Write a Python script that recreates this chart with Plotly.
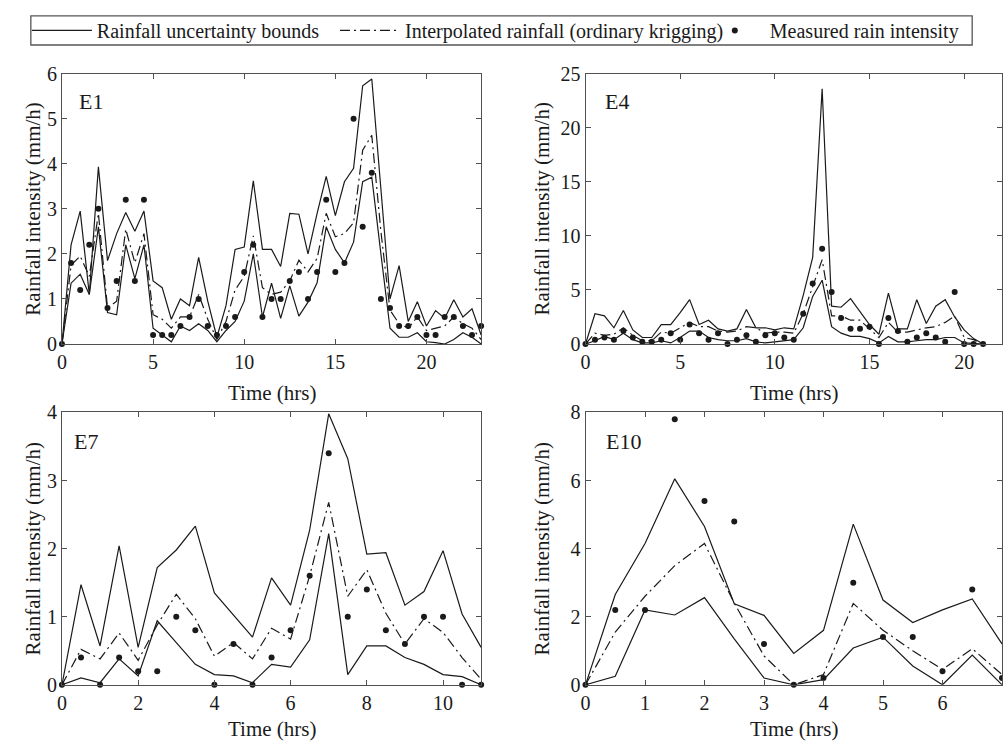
import plotly.graph_objects as go

W, H = 1003, 755
FONT = "Liberation Serif, Times New Roman, serif"
INK = "#1a1a1a"
AX = "#505050"

# ---------------- data ----------------
t_e1 = [0, 0.5, 1, 1.5, 2, 2.5, 3, 3.5, 4, 4.5, 5, 5.5, 6, 6.5, 7, 7.5, 8, 8.5, 9, 9.5,
        10, 10.5, 11, 11.5, 12, 12.5, 13, 13.5, 14, 14.5, 15, 15.5, 16, 16.5, 17, 17.5,
        18, 18.5, 19, 19.5, 20, 20.5, 21, 21.5, 22, 22.5, 23]
e1_upper = [0, 2.2, 2.95, 1.1, 3.93, 1.85, 2.45, 2.92, 2.5, 2.95,
            1.4, 1.25, 0.55, 1.0, 0.85, 1.92, 0.95, 0.15, 0.85, 2.1,
            2.15, 3.62, 2.1, 2.1, 1.72, 2.9, 2.88, 2.0, 2.9, 3.72,
            2.85, 3.6, 3.9, 5.73, 5.88, 3.4, 1.0, 1.74, 0.5, 0.94,
            0.4, 0.74, 0.57, 0.98, 0.6, 0.78, 0.2]
e1_lower = [0, 1.35, 1.55, 1.1, 2.6, 0.7, 0.65, 2.2, 1.45, 2.2,
            0.35, 0.2, 0.05, 0.4, 0.3, 0.45, 0.3, 0.05, 0.3, 0.5,
            0.95, 2.0, 0.6, 1.35, 0.57, 1.29, 0.62, 0.93, 1.36, 2.6,
            2.1, 1.8, 2.26, 3.6, 3.7, 2.0, 0.35, 0.15, 0.15, 0.25,
            0.05, 0.03, 0.0, 0.1, 0.25, 0.15, 0.0]
e1_interp = [0, 1.75, 1.95, 1.5, 2.9, 0.8, 0.95, 2.55, 1.8, 2.45,
             0.65, 0.55, 0.35, 0.6, 0.6, 1.1, 0.55, 0.1, 0.5, 1.2,
             1.5, 2.4, 1.25, 1.1, 1.15, 1.4, 1.86, 1.6, 1.9, 2.9,
             2.38, 2.45, 2.69, 4.3, 4.63, 2.5, 0.75, 0.45, 0.35, 0.6,
             0.3, 0.35, 0.4, 0.6, 0.45, 0.35, 0.1]
e1_meas = [0, 1.8, 1.2, 2.2, 3.0, 0.8, 1.4, 3.2, 1.4, 3.2,
           0.2, 0.2, 0.2, 0.4, 0.6, 1.0, 0.4, 0.2, 0.4, 0.6,
           1.6, 2.2, 0.6, 1.0, 1.0, 1.4, 1.6, 1.0, 1.6, 3.2,
           1.6, 1.8, 5.0, 2.6, 3.8, 1.0, 0.8, 0.4, 0.4, 0.6,
           0.2, 0.2, 0.6, 0.6, 0.4, 0.2, 0.4]

t_e4 = [0, 0.5, 1, 1.5, 2, 2.5, 3, 3.5, 4, 4.5, 5, 5.5, 6, 6.5, 7, 7.5, 8, 8.5, 9, 9.5,
        10, 10.5, 11, 11.5, 12, 12.5, 13, 13.5, 14, 14.5, 15, 15.5, 16, 16.5, 17, 17.5,
        18, 18.5, 19, 19.5, 20, 20.5, 21]
e4_upper = [0, 2.8, 2.6, 1.5, 3.1, 1.3, 0.6, 0.6, 1.8, 1.8,
            2.9, 4.1, 1.8, 2.2, 1.4, 1.2, 1.4, 3.2, 1.5, 1.5,
            1.3, 1.5, 1.4, 4.5, 8.0, 23.6, 3.5, 3.4, 4.2, 3.0,
            1.8, 0.9, 4.7, 1.4, 1.4, 4.1, 1.9, 3.5, 4.1, 2.5,
            1.3, 0.5, 0]
e4_lower = [0, 0.3, 0.7, 0.4, 1.0, 0.4, 0.1, 0.1, 0.3, 0.1,
            0.6, 1.2, 1.2, 0.6, 0.4, 0.3, 0.3, 0.5, 0.2, 0.1,
            0.2, 0.3, 0.4, 1.5, 4.4, 5.9, 1.6, 1.0, 0.7, 0.7,
            0.5, 0.1, 0.7, 0.2, 0.2, 0.3, 0.4, 0.4, 0.6, 0.6,
            0.1, 0.05, 0]
e4_interp = [0, 1.0, 0.8, 0.9, 1.5, 0.8, 0.3, 0.3, 1.1, 1.0,
             1.5, 2.0, 1.6, 1.6, 1.2, 1.1, 1.2, 1.6, 1.5, 1.0,
             1.1, 1.1, 1.0, 2.8, 5.3, 7.8, 2.6, 2.6, 2.2, 2.2,
             1.4, 0.6, 2.0, 1.1, 1.1, 1.3, 1.5, 1.6, 2.0, 2.6,
             0.6, 0.4, 0]
e4_meas = [0, 0.4, 0.6, 0.4, 1.2, 0.6, 0.2, 0.2, 0.4, 1.0,
           0.4, 1.8, 1.0, 0.4, 1.0, 0.0, 0.4, 0.8, 0.2, 0.8,
           1.0, 0.6, 0.4, 2.8, 5.6, 8.8, 4.8, 2.4, 1.4, 1.4,
           1.6, 0.0, 2.4, 1.2, 0.2, 0.6, 1.0, 0.6, 0.2, 4.8,
           0, 0, 0]

t_e7 = [0, 0.5, 1, 1.5, 2, 2.5, 3, 3.5, 4, 4.5, 5, 5.5, 6, 6.5, 7, 7.5, 8, 8.5, 9, 9.5,
        10, 10.5, 11]
e7_upper = [0, 1.47, 0.57, 2.04, 0.55, 1.72, 1.98, 2.33, 1.35, 1.03, 0.7, 1.57,
            1.17, 2.27, 3.98, 3.32, 1.92, 1.94, 1.17, 1.37, 1.97, 1.04, 0.55]
e7_lower = [0, 0.1, 0.03, 0.38, 0.13, 0.94, 0.62, 0.3, 0.15, 0.13, 0.03, 0.3,
            0.26, 0.66, 2.22, 0.15, 0.57, 0.57, 0.4, 0.3, 0.15, 0.12, 0.0]
e7_interp = [0, 0.52, 0.38, 0.76, 0.36, 0.88, 1.33, 0.97, 0.42, 0.62, 0.38, 0.83,
             0.67, 1.6, 2.68, 1.3, 1.69, 1.05, 0.6, 0.97, 0.77, 0.4, 0.08]
e7_meas = [0, 0.4, 0, 0.4, 0.2, 0.2, 1.0, 0.8, 0, 0.6, 0, 0.4,
           0.8, 1.6, 3.4, 1.0, 1.4, 0.8, 0.6, 1.0, 1.0, 0, 0]

t_e10 = [0, 0.5, 1, 1.5, 2, 2.5, 3, 3.5, 4, 4.5, 5, 5.5, 6, 6.5, 7]
e10_upper = [0, 2.65, 4.15, 6.05, 4.65, 2.38, 2.04, 0.92, 1.6, 4.72, 2.49, 1.83, 2.2, 2.52, 1.2]
e10_lower = [0, 0.25, 2.2, 2.05, 2.56, 1.35, 0.2, 0.0, 0.15, 1.08, 1.4, 0.55, 0.0, 0.87, 0.0]
e10_interp = [0, 1.55, 2.6, 3.5, 4.15, 2.4, 0.85, 0.0, 0.3, 2.39, 1.6, 1.0, 0.45, 1.06, 0.3]
e10_meas = [0, 2.2, 2.2, 7.8, 5.4, 4.8, 1.2, 0, 0.2, 3.0, 1.4, 1.4, 0.4, 2.8, 0.2]

panel_labels = ["E1", "E4", "E7", "E10"]
legend_names = ["Rainfall uncertainty bounds",
                "Interpolated rainfall (ordinary krigging)",
                "Measured rain intensity"]
x_title = "Time (hrs)"
y_title = "Rainfall intensity (mm/h)"


def fx(px):
    return px / W


def fy(py):
    return 1 - py / H


fig = go.Figure()

panels = [
    (t_e1, e1_upper, e1_lower, e1_interp, e1_meas, "x", "y", True),
    (t_e4, e4_upper, e4_lower, e4_interp, e4_meas, "x2", "y2", False),
    (t_e7, e7_upper, e7_lower, e7_interp, e7_meas, "x3", "y3", False),
    (t_e10, e10_upper, e10_lower, e10_interp, e10_meas, "x4", "y4", False),
]
for t, up, lo, ip, ms, xa, ya, show in panels:
    fig.add_trace(go.Scatter(x=t, y=up, mode="lines", name=legend_names[0],
                             line=dict(color=INK, width=1.2), legend="legend",
                             showlegend=show, xaxis=xa, yaxis=ya))
    fig.add_trace(go.Scatter(x=t, y=lo, mode="lines", name=legend_names[0],
                             line=dict(color=INK, width=1.2), legend="legend",
                             showlegend=False, xaxis=xa, yaxis=ya))
    fig.add_trace(go.Scatter(x=t, y=ip, mode="lines", name=legend_names[1],
                             line=dict(color=INK, width=1.2, dash="10px,4px,2px,4px"),
                             legend="legend2", showlegend=show, xaxis=xa, yaxis=ya))
    fig.add_trace(go.Scatter(x=t, y=ms, mode="markers", name=legend_names[2],
                             marker=dict(color=INK, size=6), cliponaxis=False,
                             legend="legend3", showlegend=show, xaxis=xa, yaxis=ya))

axis_common = dict(showline=True, linecolor=AX, linewidth=1, mirror="ticks",
                   ticks="inside", ticklen=5, tickcolor=AX, tickwidth=1,
                   showgrid=False, zeroline=False,
                   tickfont=dict(family=FONT, size=20, color=INK))

top_dom = [fy(343), fy(64.5)]
bot_dom = [fy(694), fy(413.5)]
left_dom = [fx(57.3), fx(479)]
right_dom = [fx(584), 1.0]

fig.update_layout(
    width=W, height=H,
    margin=dict(l=0, r=0, t=0, b=0),
    paper_bgcolor="white", plot_bgcolor="white",
    font=dict(family=FONT, color=INK),
    xaxis=dict(domain=left_dom, range=[0, 23], tickvals=[0, 5, 10, 15, 20], anchor="y", **axis_common),
    yaxis=dict(domain=top_dom, range=[0, 6], tickvals=[0, 1, 2, 3, 4, 5, 6], anchor="x", **axis_common),
    xaxis2=dict(domain=right_dom, range=[0, 22], tickvals=[0, 5, 10, 15, 20], anchor="y2", **axis_common),
    yaxis2=dict(domain=top_dom, range=[0, 25], tickvals=[0, 5, 10, 15, 20, 25], anchor="x2", **axis_common),
    xaxis3=dict(domain=left_dom, range=[0, 11], tickvals=[0, 2, 4, 6, 8, 10], anchor="y3", **axis_common),
    yaxis3=dict(domain=bot_dom, range=[0, 4], tickvals=[0, 1, 2, 3, 4], anchor="x3", **axis_common),
    xaxis4=dict(domain=right_dom, range=[0, 7], tickvals=[0, 1, 2, 3, 4, 5, 6, 7], anchor="y4", **axis_common),
    yaxis4=dict(domain=bot_dom, range=[0, 8], tickvals=[0, 2, 4, 6, 8], anchor="x4", **axis_common),
)

leg_common = dict(orientation="h", xanchor="left", yanchor="middle", y=fy(20),
                  bgcolor="rgba(0,0,0,0)", borderwidth=0, itemwidth=60,
                  font=dict(family=FONT, size=20, color=INK))
fig.update_layout(
    legend=dict(x=fx(22), **leg_common),
    legend2=dict(x=fx(332), **leg_common),
    legend3=dict(x=fx(699), **leg_common),
)

# legend frame
fig.add_shape(type="rect", xref="paper", yref="paper",
              x0=fx(26), x1=fx(973), y0=fy(35), y1=fy(5),
              line=dict(color="#555555", width=1.3), fillcolor="rgba(0,0,0,0)")

ann = []
# axis titles
for cx, cy in [((57.3 + 479) / 2, 393), ((584 + 1004) / 2, 393),
               ((57.3 + 479) / 2, 740), ((584 + 1004) / 2, 740)]:
    ann.append(dict(text=x_title, x=fx(cx), y=fy(cy), xref="paper", yref="paper",
                    xanchor="center", yanchor="middle", showarrow=False,
                    font=dict(family=FONT, size=21, color=INK)))
for cx, cy in [(28, (64.5 + 343) / 2), (540, (64.5 + 343) / 2),
               (28, (413.5 + 694) / 2), (540, (413.5 + 694) / 2)]:
    ann.append(dict(text=y_title, x=fx(cx), y=fy(cy), xref="paper", yref="paper",
                    xanchor="center", yanchor="middle", showarrow=False, textangle=-90,
                    font=dict(family=FONT, size=21, color=INK)))
# panel labels
for lab, lx, ly in zip(panel_labels, [72, 602, 67, 603], [93, 93, 443, 443]):
    ann.append(dict(text=lab, x=fx(lx), y=fy(ly), xref="paper", yref="paper",
                    xanchor="left", yanchor="middle", showarrow=False,
                    font=dict(family=FONT, size=22, color=INK)))
fig.update_layout(annotations=ann)

fig.write_html("out.html")
